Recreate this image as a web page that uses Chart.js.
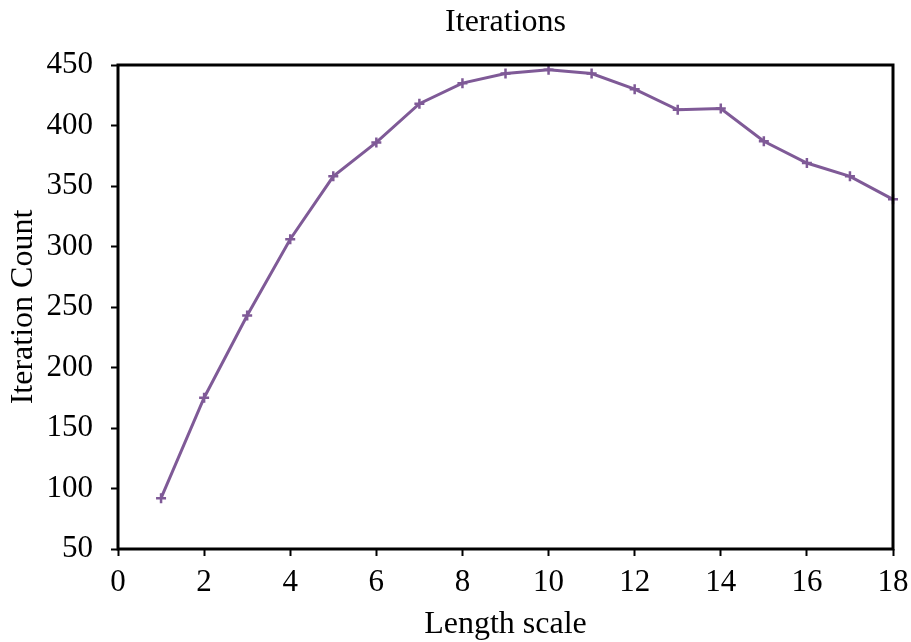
<!DOCTYPE html>
<html>
<head>
<meta charset="utf-8">
<script src="https://cdn.jsdelivr.net/npm/chart.js@4/dist/chart.umd.min.js"></script>
<style>
    html, body { margin: 0; padding: 0; background: #fff; }
    #wrap { width: 911px; height: 642px; }
</style>
</head>
<body>
<div id="wrap"><canvas id="IterationsChartjs"></canvas></div>
<script>
const lengthScale = [1, 2, 3, 4, 5, 6, 7, 8, 9, 10, 11, 12, 13, 14, 15, 16, 17, 18];
const iterationCount = [92, 175, 243, 306, 358, 386, 418, 435, 443, 446, 443, 430, 413, 414, 387, 369, 358, 339];
const xTicks = [0, 2, 4, 6, 8, 10, 12, 14, 16, 18];
const yTicks = [50, 100, 150, 200, 250, 300, 350, 400, 450];

const IterationsChart = document.getElementById('IterationsChartjs').getContext('2d');

// black frame round the plot area
const frameBox = {
    id: 'frameBox',
    afterDatasetsDraw(chart) {
        const { ctx, chartArea } = chart;
        ctx.save();
        ctx.strokeStyle = '#000';
        ctx.lineWidth = 3;
        ctx.strokeRect(chartArea.left, chartArea.top, chartArea.right - chartArea.left, chartArea.bottom - chartArea.top);
        ctx.restore();
    }
};

const tickFont = { family: 'Liberation Serif', size: 31, weight: 'normal' };
const titleFont = { family: 'Liberation Serif', size: 32, weight: 'normal' };

new Chart(IterationsChart, {
    type: 'line',
    data: {
        datasets: [{
            label: 'Iterations',
            data: lengthScale.map((x, i) => ({ x: x, y: iterationCount[i] })),
            borderColor: '#7f5a97',
            backgroundColor: '#7f5a97',
            borderWidth: 3,
            pointStyle: 'cross',
            pointRadius: 5,
            pointBorderWidth: 2.5,
            tension: 0,
            clip: false
        }]
    },
    options: {
        responsive: true,
        maintainAspectRatio: false,
        animation: false,
        layout: { padding: { left: 0, right: 18, top: 0, bottom: 0 } },
        plugins: {
            legend: { display: false },
            tooltip: { enabled: false },
            title: {
                display: true,
                text: 'Iterations',
                fullSize: false,
                color: '#000',
                font: titleFont,
                padding: { top: 3, bottom: 23.6 }
            }
        },
        scales: {
            x: {
                type: 'linear',
                min: 0,
                max: 18,
                afterBuildTicks: s => { s.ticks = xTicks.map(v => ({ value: v })); },
                afterFit: s => {
                    s.height = 93;
                    // the outer layout padding leaves room for the end labels
                    s.paddingLeft = 0;
                    s.paddingRight = 0;
                },
                border: { display: false },
                grid: { drawOnChartArea: false, drawTicks: true, tickLength: 7, tickWidth: 2, tickColor: '#000' },
                ticks: { color: '#000', font: tickFont, padding: 8, maxRotation: 0 },
                title: { display: true, text: 'Length scale', color: '#000', font: titleFont, padding: { top: 0, bottom: -2 } }
            },
            y: {
                type: 'linear',
                min: 50,
                max: 450,
                afterBuildTicks: s => { s.ticks = yTicks.map(v => ({ value: v })); },
                afterFit: s => { s.width = 118; },
                border: { display: false },
                grid: { drawOnChartArea: false, drawTicks: true, tickLength: 7, tickWidth: 2, tickColor: '#000' },
                ticks: { color: '#000', font: tickFont, padding: 18 },
                title: { display: true, text: 'Iteration Count', color: '#000', font: titleFont, padding: { top: 4, bottom: 0 } }
            }
        }
    },
    plugins: [frameBox]
});
</script>
</body>
</html>
